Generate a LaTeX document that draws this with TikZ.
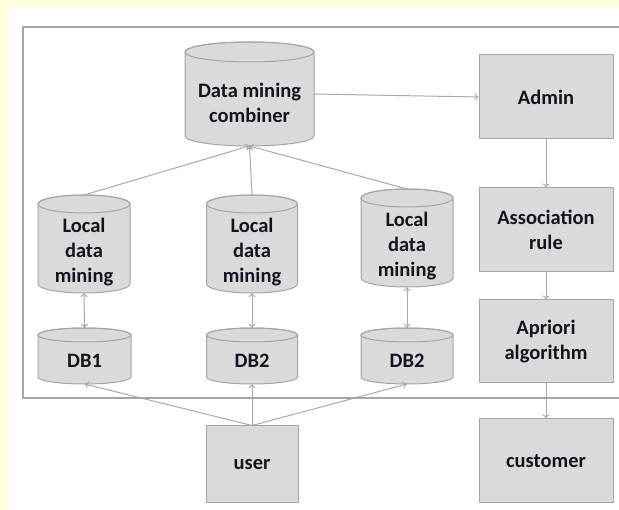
\documentclass[tikz,border=0pt]{standalone}
\usepackage{fontspec}
\setmainfont{Carlito}
\usetikzlibrary{arrows.meta}
\definecolor{bgyellow}{RGB}{255,255,220}
\definecolor{shapefill}{RGB}{218,218,218}
\definecolor{shapeline}{RGB}{165,165,165}
\definecolor{linkgray}{RGB}{168,168,168}
\definecolor{txt}{RGB}{20,20,30}
\tikzset{
  cylbody/.style={fill=shapefill, draw=shapeline, line width=1pt},
  cylline/.style={draw=shapeline, line width=1pt},
  cylanchor/.style={draw=none, inner sep=0pt, outer sep=0pt},
  lbl/.style={font=\bfseries\fontsize{20.5}{25}\selectfont, text=txt, align=center, inner sep=0pt},
  boxnode/.style={fill=shapefill, draw=shapeline, line width=1pt, minimum width=134pt, minimum height=84pt, inner sep=0pt, font=\bfseries\fontsize{20.5}{25}\selectfont, text=txt, align=center},
  link/.style={draw=linkgray, line width=1pt, -{To[length=4pt,width=7pt]}},
  duallink/.style={draw=linkgray, line width=1pt, {To[length=4pt,width=7pt]}-{To[length=4pt,width=7pt]}},
  frame/.style={draw=shapeline, line width=1.1pt}
}
\newcommand\drawcyl[6]{%
  \path[cylbody] ({#2-#5},{#3+#6}) -- ({#2-#5},{#4-#6})
     arc[start angle=180,end angle=0,x radius=#5,y radius=#6]
     -- ({#2+#5},{#3+#6})
     arc[start angle=0,end angle=-180,x radius=#5,y radius=#6] -- cycle;
  \draw[cylline] (#2,{#3+#6}) ellipse[x radius=#5,y radius=#6];
  \node[cylanchor, minimum width={2*#5pt}, minimum height={(#4-#3)*1pt}] (#1) at (#2,{(#3+#4)/2}) {};
}
\begin{document}
\begin{tikzpicture}[x=1pt,y=-1pt]
\useasboundingbox (0,0) rectangle (619,510);
\fill[bgyellow] (0,0) rectangle (619,510);
\fill[white] (7,7) rectangle (619,510);
\draw[frame] (23,27) rectangle (640,398);

% cylinders
\drawcyl{comb}{249.5}{42}{146}{64.5}{10}
\drawcyl{ldm1}{84}{195}{293}{46}{9}
\drawcyl{ldm2}{252}{195}{293}{45.5}{9}
\drawcyl{ldm3}{407}{189}{287}{46}{9}
\drawcyl{db1}{84.5}{328}{384}{46.5}{7}
\drawcyl{db2}{252}{328}{384}{45.5}{7}
\drawcyl{db3}{407}{328}{384}{46}{7}

\node[lbl] (combt) at (249.5,103) {Data mining\\combiner};
\node[lbl] (ldm1t) at (84,252) {Local\\data\\mining};
\node[lbl] (ldm2t) at (252,252) {Local\\data\\mining};
\node[lbl] (ldm3t) at (407,246) {Local\\data\\mining};
\node[lbl] (db1t) at (84.5,361) {DB1};
\node[lbl] (db2t) at (252,361) {DB2};
\node[lbl] (db3t) at (407,361) {DB2};

% boxes
\node[boxnode] (admin) at (546,97) {\raisebox{-6pt}{Admin}};
\node[boxnode] (assoc) at (546,230) {Association\\rule};
\node[boxnode, minimum height=83pt] (apriori) at (546,341.5) {Apriori\\algorithm};
\node[boxnode] (customer) at (546,461) {customer};
\node[boxnode, minimum width=92pt, minimum height=77pt] (user) at (252,464.5) {user};

% connectors
\draw[link] (comb.east) -- (admin.west);
\draw[link] (admin.south) -- (assoc.north);
\draw[link] (assoc.south) -- (apriori.north);
\draw[link] (apriori.south) -- (customer.north);
\draw[link] (ldm1.north) -- (comb.south);
\draw[link] (ldm2.north) -- (comb.south);
\draw[link] (ldm3.north) -- (comb.south);
\draw[duallink] (ldm1.south) -- (db1.north);
\draw[duallink] (ldm2.south) -- (db2.north);
\draw[duallink] (ldm3.south) -- (db3.north);
\draw[link] (user.north) -- (db1.south);
\draw[link] (user.north) -- (db2.south);
\draw[link] (user.north) -- (db3.south);
\end{tikzpicture}
\end{document}
